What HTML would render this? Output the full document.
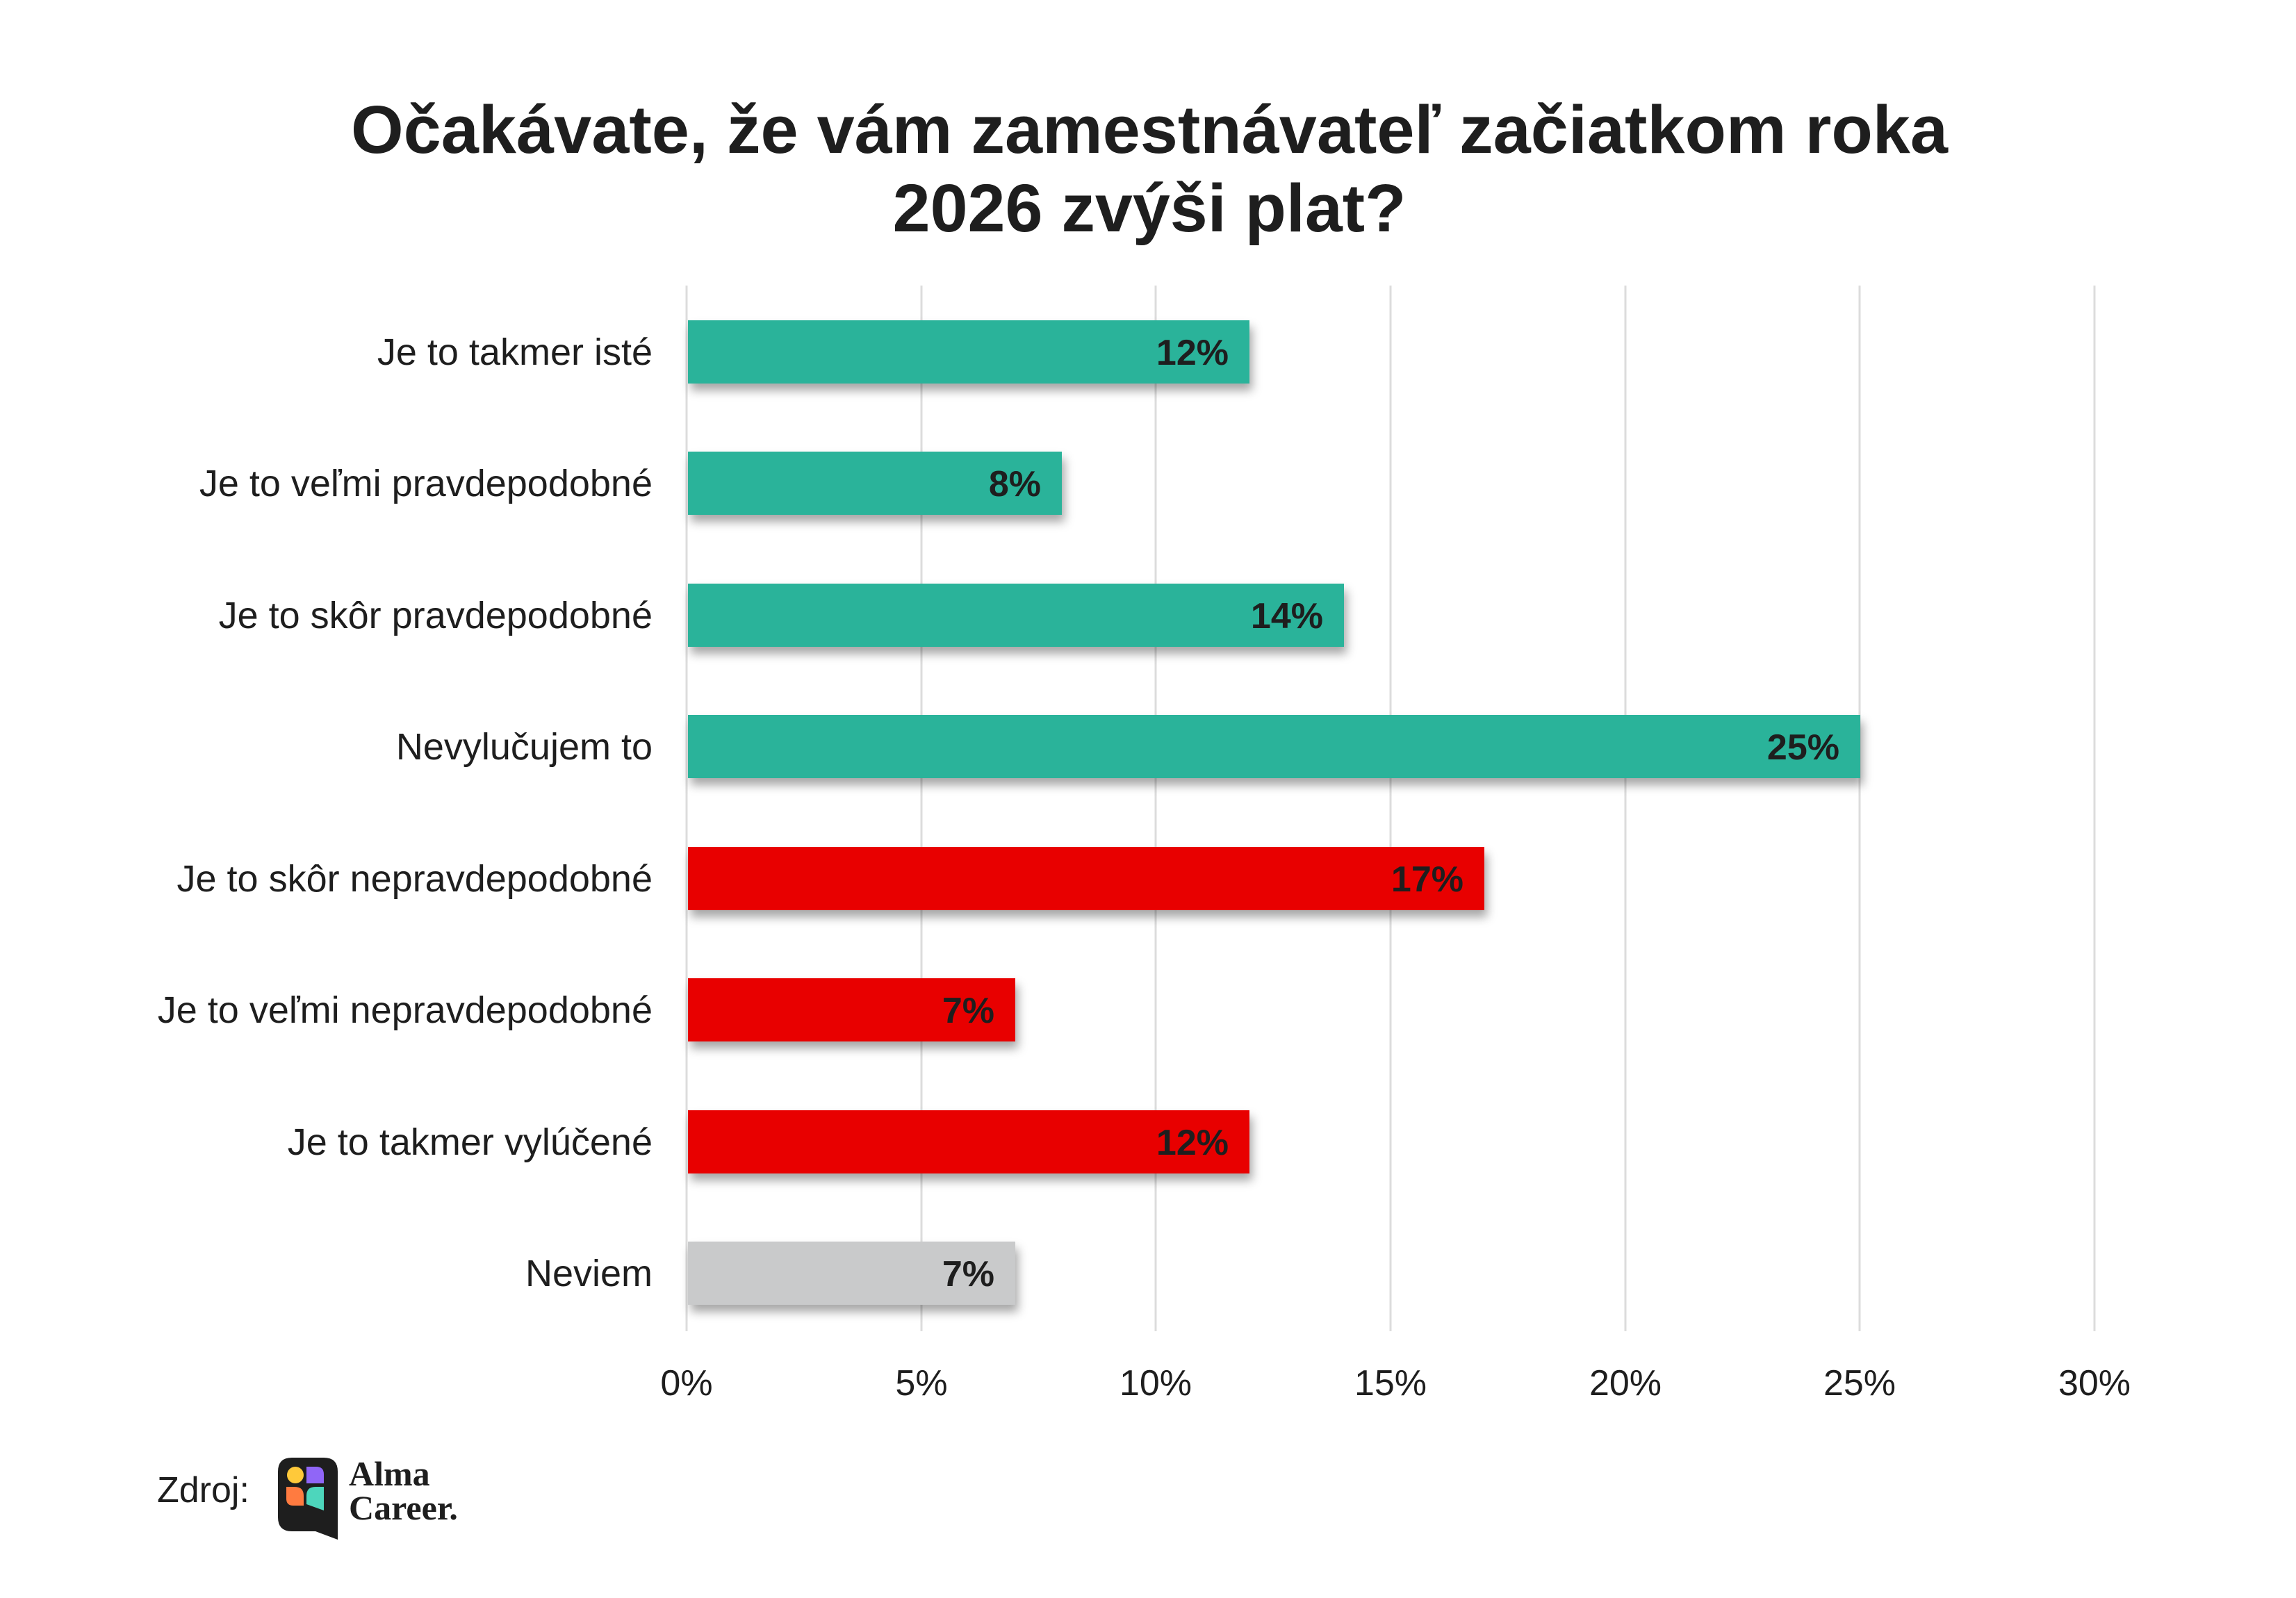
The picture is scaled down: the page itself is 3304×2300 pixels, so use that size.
<!DOCTYPE html>
<html><head><meta charset="utf-8"><style>
html,body{margin:0;padding:0;background:#fff;}
svg{display:block;font-family:"Liberation Sans",sans-serif;}
</style></head><body>
<svg width="3304" height="2300" viewBox="0 0 3304 2300" xmlns="http://www.w3.org/2000/svg">
<defs>
<filter id="sh" x="-5%" y="-30%" width="110%" height="180%">
<feDropShadow dx="4" dy="10" stdDeviation="7" flood-color="#000" flood-opacity="0.35"/>
</filter>
</defs>
<rect width="3304" height="2300" fill="#fff"/>
<g fill="#1e1e1e" font-weight="bold" font-size="97" text-anchor="middle">
<text x="1654" y="220" textLength="2298" lengthAdjust="spacingAndGlyphs">Očakávate, že vám zamestnávateľ začiatkom roka</text>
<text x="1654" y="333">2026 zvýši plat?</text>
</g>
<g stroke="#dcdcdc" stroke-width="3">
<line x1="988" y1="411" x2="988" y2="1916"/>
<line x1="1326" y1="411" x2="1326" y2="1916"/>
<line x1="1663" y1="411" x2="1663" y2="1916"/>
<line x1="2001" y1="411" x2="2001" y2="1916"/>
<line x1="2339" y1="411" x2="2339" y2="1916"/>
<line x1="2676" y1="411" x2="2676" y2="1916"/>
<line x1="3014" y1="411" x2="3014" y2="1916"/>
</g>
<g filter="url(#sh)">
<rect x="990" y="461" width="808" height="91" fill="#2bb39a"/>
<rect x="990" y="650" width="538" height="91" fill="#2bb39a"/>
<rect x="990" y="840" width="944" height="91" fill="#2bb39a"/>
<rect x="990" y="1029" width="1687" height="91" fill="#2bb39a"/>
<rect x="990" y="1219" width="1146" height="91" fill="#e80202"/>
<rect x="990" y="1408" width="471" height="91" fill="#e80202"/>
<rect x="990" y="1598" width="808" height="91" fill="#e80202"/>
<rect x="990" y="1787" width="471" height="91" fill="#c9cacb"/>
</g>
<g fill="#1e1e1e" font-size="54" text-anchor="end">
<text x="939" y="525">Je to takmer isté</text>
<text x="939" y="714">Je to veľmi pravdepodobné</text>
<text x="939" y="904">Je to skôr pravdepodobné</text>
<text x="939" y="1093">Nevylučujem to</text>
<text x="939" y="1283">Je to skôr nepravdepodobné</text>
<text x="939" y="1472">Je to veľmi nepravdepodobné</text>
<text x="939" y="1662">Je to takmer vylúčené</text>
<text x="939" y="1851">Neviem</text>
</g>
<g fill="#1e1e1e" font-size="52" font-weight="bold" text-anchor="end">
<text x="1768" y="525">12%</text>
<text x="1498" y="714">8%</text>
<text x="1904" y="904">14%</text>
<text x="2647" y="1093">25%</text>
<text x="2106" y="1283">17%</text>
<text x="1431" y="1472">7%</text>
<text x="1768" y="1662">12%</text>
<text x="1431" y="1851">7%</text>
</g>
<g fill="#1e1e1e" font-size="52" text-anchor="middle">
<text x="988" y="2008">0%</text>
<text x="1326" y="2008">5%</text>
<text x="1663" y="2008">10%</text>
<text x="2001" y="2008">15%</text>
<text x="2339" y="2008">20%</text>
<text x="2676" y="2008">25%</text>
<text x="3014" y="2008">30%</text>
</g>
<text x="226" y="2162" font-size="52" fill="#1e1e1e">Zdroj:</text>
<path d="M420 2098 h46 q20 0 20 20 v98 l-32 -12 h-34 q-20 0 -20 -20 v-66 q0 -20 20 -20z" fill="#1e1e1e"/>
<circle cx="425" cy="2123" r="12" fill="#ffc93a"/>
<path d="M441 2111 h14 q11 0 11 11 v13 h-25z" fill="#9066f7"/>
<path d="M412 2140 h12 q13 0 13 13 v14 h-15 q-10 0 -10 -10z" fill="#ff7b40"/>
<path d="M441 2153 q0 -13 13 -13 h12 v34 l-25 -9z" fill="#4dd6bc"/>
<g fill="#1e1e1e" font-family="Liberation Serif,serif" font-weight="bold" font-size="50">
<text x="502" y="2138">Alma</text>
<text x="502" y="2187">Career.</text>
</g>
</svg>
</body></html>
